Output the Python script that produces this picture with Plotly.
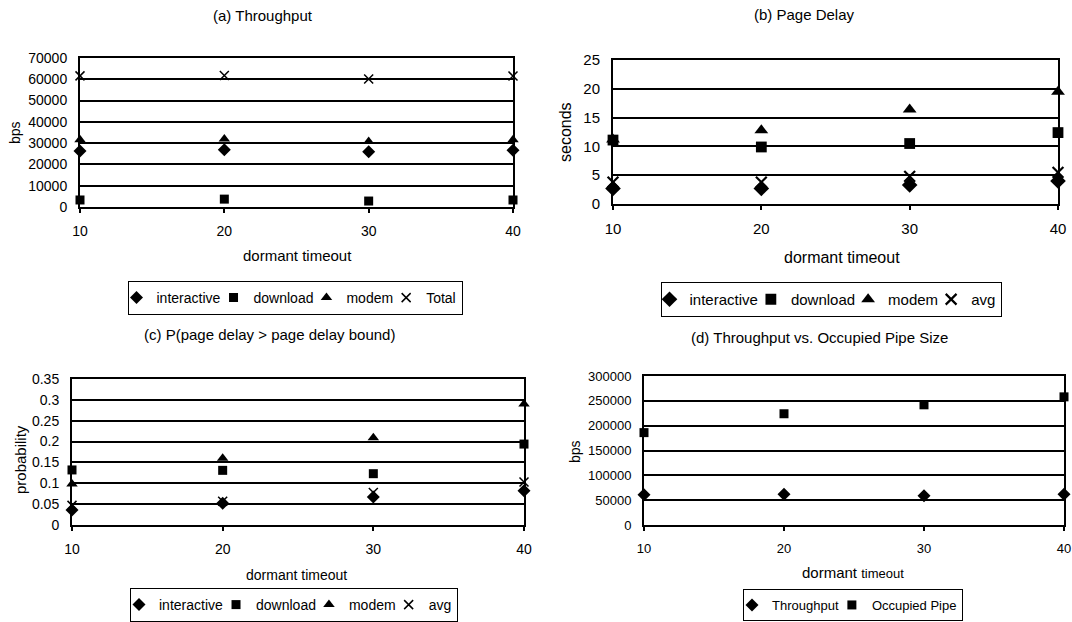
import plotly.graph_objects as go

W, H = 1072, 622
FONT = "Liberation Sans, Arial, sans-serif"

timeout = [10, 20, 30, 40]

# (a) Throughput (bps)
a_interactive = [26300, 26900, 26000, 26700]
a_download = [3300, 3700, 2800, 3300]
a_modem = [31600, 31900, 30800, 31600]
a_total = [61600, 61800, 60100, 61500]
a_ticks = [0, 10000, 20000, 30000, 40000, 50000, 60000, 70000]

# (b) Page Delay (seconds)
b_interactive = [2.7, 2.7, 3.3, 4.0]
b_download = [11.1, 9.9, 10.5, 12.4]
b_modem = [11.2, 12.8, 16.4, 19.5]
b_avg = [3.8, 3.8, 4.8, 5.5]
b_ticks = [0, 5, 10, 15, 20, 25]

# (c) P(page delay > page delay bound)
c_interactive = [0.036, 0.052, 0.067, 0.082]
c_download = [0.132, 0.131, 0.123, 0.194]
c_modem = [0.098, 0.160, 0.209, 0.290]
c_avg = [0.047, 0.057, 0.078, 0.103]
c_ticks = [0, 0.05, 0.1, 0.15, 0.2, 0.25, 0.3, 0.35]
c_ticktext = ["0", "0.05", "0.1", "0.15", "0.2", "0.25", "0.3", "0.35"]

# (d) Throughput vs. Occupied Pipe Size
d_throughput = [61000, 62000, 59000, 62000]
d_occupied = [186000, 224000, 242000, 258000]
d_ticks = [0, 50000, 100000, 150000, 200000, 250000, 300000]


def px_x(v):
    return v / W


def px_y(v):
    return 1 - v / H


panels = [
    dict(n=1, x0=80, x1=513, y0=58, y1=207, ticks=a_ticks, text=[str(t) for t in a_ticks],
         fs=14, xtfs=15, ytfs=14, title="(a) Throughput", tx=263, ty=16,
         xt="dormant timeout", xtx=297, xty=255, yt="bps", ytx=15, yty=133,
         legend="legend", lx=295, ly=281, lanchor="top", big=False,
         series=[("interactive", a_interactive, "diamond"), ("download", a_download, "square"),
                 ("modem", a_modem, "triangle-up"), ("Total", a_total, "x-thin")]),
    dict(n=2, x0=613, x1=1058, y0=60, y1=204, ticks=b_ticks, text=[str(t) for t in b_ticks],
         fs=15, xtfs=16, ytfs=16, title="(b) Page Delay", tx=804, ty=15,
         xt="dormant timeout", xtx=842, xty=257, yt="seconds", ytx=565, yty=132,
         legend="legend2", lx=831, ly=282, lanchor="top", big=True,
         series=[("interactive", b_interactive, "diamond"), ("download", b_download, "square"),
                 ("modem", b_modem, "triangle-up"), ("avg", b_avg, "x-thin")]),
    dict(n=3, x0=72, x1=524, y0=379, y1=525, ticks=c_ticks, text=c_ticktext,
         fs=14, xtfs=14, ytfs=15, title="(c) P(page delay > page delay bound)", tx=269, ty=335,
         xt="dormant timeout", xtx=296, xty=575, yt="probability", ytx=20, yty=460,
         legend="legend3", lx=294, ly=622, lanchor="bottom", big=False,
         series=[("interactive", c_interactive, "diamond"), ("download", c_download, "square"),
                 ("modem", c_modem, "triangle-up"), ("avg", c_avg, "x-thin")]),
    dict(n=4, x0=644, x1=1064, y0=376, y1=525, ticks=d_ticks, text=[str(t) for t in d_ticks],
         fs=13, xtfs=15, ytfs=14, title="(d) Throughput vs. Occupied Pipe Size", tx=819, ty=337,
         xt="dormant <span style='font-size:13px'>timeout</span>", xtx=853, xty=572,
         yt="bps", ytx=575, yty=452, legend="legend4", lx=853, ly=621, lanchor="bottom", big=False,
         series=[("Throughput", d_throughput, "diamond"), ("Occupied Pipe", d_occupied, "square")]),
]

fig = go.Figure()
layout = dict(
    width=W, height=H, margin=dict(l=0, r=0, t=0, b=0, autoexpand=False),
    paper_bgcolor="white", plot_bgcolor="white",
    font=dict(family=FONT, color="black", size=13),
    showlegend=True,
)
annotations = []

for p in panels:
    n = p["n"]
    xa = "x" if n == 1 else f"x{n}"
    ya = "y" if n == 1 else f"y{n}"
    scale = 1.2 if p["big"] else 1.0
    sizes = {"diamond": 10, "square": 9, "triangle-up": 10, "x-thin": 9}
    for name, vals, sym in p["series"]:
        fig.add_trace(go.Scatter(
            x=timeout, y=vals, name=name, mode="markers", xaxis=xa, yaxis=ya,
            legend=p["legend"], cliponaxis=False, hoverinfo="skip",
            marker=dict(symbol=sym, size=sizes[sym] * scale, color="black",
                        line=dict(color="black", width=(2.2 if p["big"] else 1.5) if sym == "x-thin" else 0)),
        ))
    key_x = "xaxis" if n == 1 else f"xaxis{n}"
    key_y = "yaxis" if n == 1 else f"yaxis{n}"
    layout[key_x] = dict(
        domain=[px_x(p["x0"]), px_x(p["x1"])], range=[10, 40], anchor=ya,
        tickvals=timeout, ticktext=[str(t) for t in timeout],
        showgrid=False, zeroline=False, showline=True, mirror=True,
        linecolor="black", linewidth=2, ticks="outside", ticklen=4, tickwidth=1.5,
        tickcolor="black", ticklabelstandoff=6, tickfont=dict(size=p["fs"], family=FONT),
        fixedrange=True,
    )
    layout[key_y] = dict(
        domain=[px_y(p["y1"]), px_y(p["y0"])], range=[0, p["ticks"][-1]], anchor=xa,
        tickvals=p["ticks"], ticktext=p["text"],
        showgrid=True, gridcolor="black", gridwidth=2, zeroline=False,
        showline=True, mirror=True, linecolor="black", linewidth=2,
        ticks="", ticklabelstandoff=8, tickfont=dict(size=p["fs"], family=FONT),
        fixedrange=True,
    )
    layout[p["legend"]] = dict(
        orientation="h", x=px_x(p["lx"]), xanchor="center", y=px_y(p["ly"]), yanchor=p["lanchor"],
        bordercolor="black", borderwidth=1, bgcolor="white",
        font=dict(size=p["fs"], family=FONT, color="black"), itemwidth=30,
        indentation=-12, tracegroupgap=0, itemclick=False, itemdoubleclick=False,
    )
    annotations.append(dict(text=p["title"], x=px_x(p["tx"]), y=px_y(p["ty"]), xref="paper",
                            yref="paper", showarrow=False, xanchor="center", yanchor="middle",
                            font=dict(size=15, family=FONT)))
    annotations.append(dict(text=p["xt"], x=px_x(p["xtx"]), y=px_y(p["xty"]), xref="paper",
                            yref="paper", showarrow=False, xanchor="center", yanchor="middle",
                            font=dict(size=p["xtfs"], family=FONT)))
    annotations.append(dict(text=p["yt"], x=px_x(p["ytx"]), y=px_y(p["yty"]), xref="paper",
                            yref="paper", showarrow=False, xanchor="center", yanchor="middle",
                            textangle=-90, font=dict(size=p["ytfs"], family=FONT)))

layout["annotations"] = annotations
fig.update_layout(**layout)
fig.write_html("out.html", config={"displayModeBar": False},
               post_script="document.body.style.margin='0';document.body.style.overflow='hidden';")
